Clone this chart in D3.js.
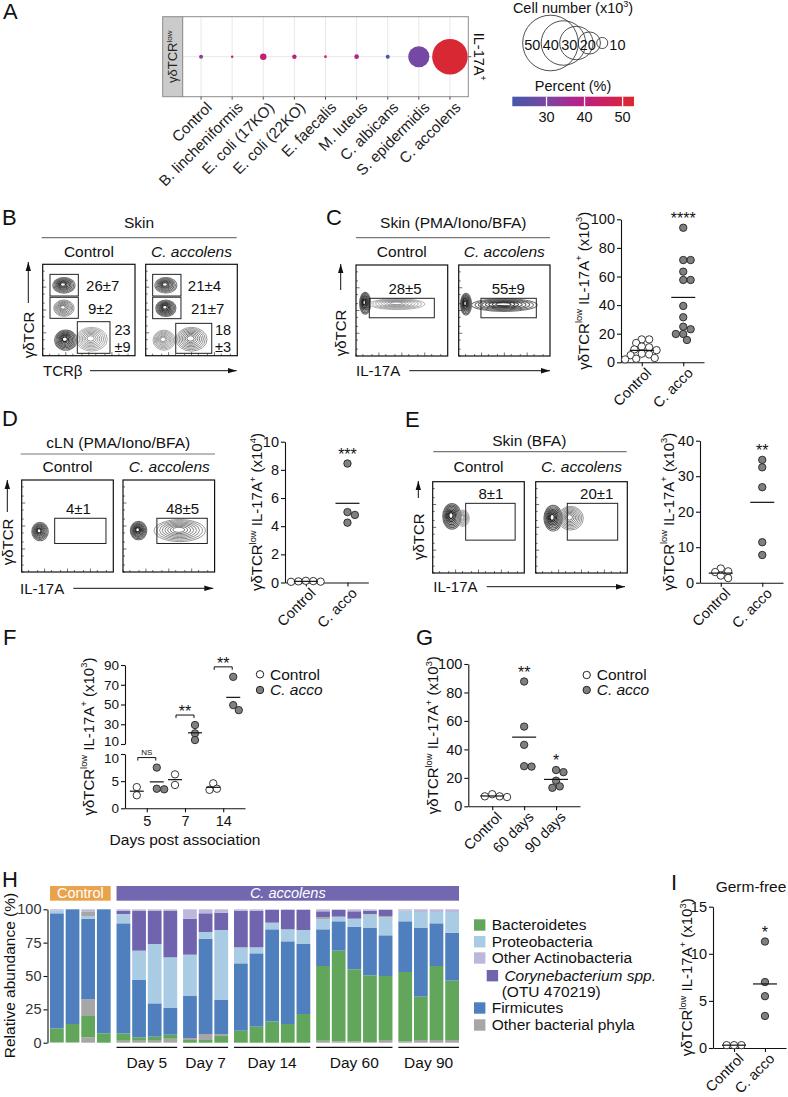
<!DOCTYPE html>
<html><head><meta charset="utf-8">
<script src="https://cdn.jsdelivr.net/npm/d3@7"></script>
<style>body{margin:0;background:#fff} svg{display:block}</style>
</head><body><script>
// ================= DATA =================
// Panel A
const aStrains = ["Control","B. lincheniformis","E. coli (17KO)","E. coli (22KO)","E. faecalis","M. luteus","C. albicans","S. epidermidis","C. accolens"];
const aCellNumber = [3.6, 2.2, 5.8, 4.0, 2.4, 4.2, 3.6, 19, 32];
const aPercent = [32, 45, 42, 40, 47, 39, 22, 29, 52];
const aSizeLegend = [50, 40, 30, 20, 10];
const aColorTicks = [30, 40, 50];
// Flow plot annotations
const bLabels = [["26±7","9±2","23","±9"],["21±4","21±7","18","±3"]];
const cLabels = ["28±5","55±9"];
const dLabels = ["4±1","48±5"];
const eLabels = ["8±1","20±1"];
// Panel C (x10^3)
const cControl = [16, 16, 13.5, 11, 10.5, 9, 8.5, 6, 5.5, 5, 3, 2.5, 2];
const cAcco = [94.1, 71.5, 71.5, 63.4, 57.6, 57.6, 39.4, 31.5, 24.9, 23.1, 19.8, 19.8, 15.6];
// Panel D (x10^4)
const dControl = [0.1, 0.05, 0.08, 0.12, 0.06];
const dAcco = [8.45, 5.0, 4.8, 4.25];
// Panel E (x10^3)
const eControl = [4.0, 3.2, 3.0, 2.0, 1.3];
const eAcco = [34.6, 32.5, 26.9, 11.4, 7.8];
// Panel F
const fDays = ["5", "7", "14"];
const fControl = [[3.9, 2.4], [6.25, 4.3], [4.6, 3.6, 3.4]];
const fAcco = [[7.5, 3.6, 3.5], [29.2, 20.8, 14], [78, 44.3, 49.4]];
const fSig = ["NS", "**", "**"];
// Panel G
const gCats = ["Control", "60 days", "90 days"];
const gValues = [[8.5, 7, 7, 6.5], [87.7, 56, 43.2, 27.9, 28.2], [25.5, 24, 18, 14, 13]];
const gSig = ["", "**", "*"];
// Panel H
const hGroups = ["Control", "Day 5", "Day 7", "Day 14", "Day 60", "Day 90"];
const hGroupSizes = [4, 4, 3, 5, 5, 4];
const hLayers = ["other1", "bact", "other2", "firm", "prot", "other3", "coryne", "actino"];
const hOther1 = [0.5,0.5,4,0, 1.5,1.5,1.5,3, 0,0,0, 0,0,0,0,0, 1.5,1,1,0.5,2, 1,2,2,2];
const hBact   = [10.25,13.5,16,7, 5.5,2.5,3,3, 2,2,5, 9,12,16,14,21.5, 56,68,54,50,48, 52,32.5,55.5,44.5];
const hOther2 = [0,0,12.5,0, 0,0,0,0, 1.5,4.5,1.5, 0,0,0,0,0, 0,0,0,0,0, 0,0,0,0];
const hFirm   = [86.25,86,60.5,93, 82.5,43,25,20, 31.5,71.5,25.5, 50.5,55,69,62,52.5, 27.5,22,32,35.5,30.5, 38,51.5,32,36];
const hProt   = [2,0,2,0, 7,22,44.5,38, 31,5,52.5, 12,4.5,5,9,10.5, 7.5,3.5,6,10,13.5, 8,12,8.5,15.5];
const hOther3 = [0,0,3.5,0, 0,0,0,0, 0,0,0, 0,0,0,0,0, 1.5,0,0,0.5,1, 0,0,0,0];
const hCoryne = [0,0,0,0, 2.5,30,25,35, 27,14,13, 27.5,27.5,9.5,14.5,15, 4.5,5,5.5,2.5,4.5, 0,0,0,0];
const hActino = [1,0,1.5,0, 1,1,1,1, 7,3,2.5, 1,1,0.5,0.5,0.5, 1.5,0.5,1.5,1,0.5, 1,2,2,2];
const hTicks = [0, 25, 50, 75, 100];
const hLegend = ["Bacteroidetes", "Proteobacteria", "Other Actinobacteria", "Corynebacterium spp.", "Firmicutes", "Other bacterial phyla"];
// Panel I
const iControl = [0.3, 0.3, 0.3];
const iAcco = [11.3, 7.0, 5.5, 3.4];

// ================= SETUP =================
const FONT = '"Liberation Sans", Arial, Helvetica, sans-serif';
const INK = "#111";
const svg = d3.select("body").append("svg").attr("width", 788).attr("height", 1097)
  .attr("font-family", FONT).attr("fill", INK);
const defs = svg.append("defs");
defs.append("marker").attr("id", "arr").attr("viewBox", "0 0 10 6").attr("refX", 10).attr("refY", 3)
  .attr("markerWidth", 9).attr("markerHeight", 6).attr("markerUnits", "userSpaceOnUse").attr("orient", "auto")
  .append("path").attr("d", "M0,0L10,3L0,6Z").attr("fill", INK);

function rich(parent, parts, fs) {
  const t = parent.append("text").attr("font-size", fs);
  let shift = 0;
  parts.forEach(p => {
    const o = typeof p === "string" ? {t: p} : p;
    const ts = t.append("tspan").text(o.t);
    const target = o.sup ? -0.42 * fs : 0;
    if (target !== shift) { ts.attr("dy", target - shift); shift = target; }
    if (o.sup) ts.attr("font-size", fs * 0.62);
    if (o.i) ts.attr("font-style", "italic");
  });
  return t;
}
function txt(x, y, s, fs, anchor = "middle", italic = false) {
  const t = svg.append("text").attr("x", x).attr("y", y).attr("font-size", fs).attr("text-anchor", anchor).text(s);
  if (italic) t.attr("font-style", "italic");
  return t;
}
const yLab = exp => ["γδTCR", {t: "low", sup: 1}, " IL-17A", {t: "+", sup: 1}, " (x10", {t: exp, sup: 1}, ")"];
function yLabel(x, yc, exp) {
  rich(svg.append("g").attr("transform", `translate(${x},${yc}) rotate(-90)`), yLab(exp), 15)
    .attr("text-anchor", "middle").attr("dy", "0.35em");
}
function styleAxis(ax, fs = 14.5) {
  ax.attr("font-size", fs).attr("font-family", FONT);
  ax.selectAll("line,path").attr("stroke", INK).attr("stroke-width", 1.1);
  ax.selectAll("text").attr("fill", INK);
  return ax;
}
function yAxis(scale, x, ticks, fs = 14.5) {
  return styleAxis(svg.append("g").attr("transform", `translate(${x},0)`)
    .call(d3.axisLeft(scale).tickValues(ticks).tickSize(4).tickSizeOuter(0).tickPadding(2)), fs);
}
function rotLabels(xs, labels, y, fs = 14.5) {
  labels.forEach((l, i) => {
    svg.append("text").attr("transform", `translate(${xs[i] + 7},${y + 8}) rotate(-45)`)
      .attr("text-anchor", "end").attr("dy", "0.35em").attr("font-size", fs).text(l);
  });
}
function swarm(vals, yf, cx, r) {
  const idx = vals.map((v, i) => i).sort((a, b) => vals[b] - vals[a]);
  const placed = [], out = new Array(vals.length);
  idx.forEach(i => {
    const py = yf(vals[i]); let px = cx;
    for (let k = 0; k < 60; k++) {
      const off = (k === 0 ? 0 : (k % 2 ? 1 : -1) * Math.ceil(k / 2)) * r * 0.5;
      const c = cx + off;
      if (placed.every(p => Math.hypot(p[0] - c, p[1] - py) >= 2 * r * 0.85)) { px = c; break; }
    }
    placed.push([px, py]); out[i] = [px, py];
  });
  return out;
}
function dots(vals, yf, cx, filled, r = 3.7, meanW = 24) {
  const pos = swarm(vals, yf, cx, r);
  svg.append("g").selectAll("circle").data(pos).join("circle")
    .attr("cx", d => d[0]).attr("cy", d => d[1]).attr("r", r)
    .attr("fill", filled ? "#808080" : "#fff").attr("stroke", "#222").attr("stroke-width", 0.9);
  const m = d3.mean(vals);
  svg.append("line").attr("x1", cx - meanW / 2).attr("x2", cx + meanW / 2).attr("y1", yf(m)).attr("y2", yf(m))
    .attr("stroke", INK).attr("stroke-width", 1.2);
  return d3.min(pos, p => p[1]);
}
function star(x, topPoint, s) { if (s) txt(x, topPoint - 4, s, 16); }

// Panel letters
[["A", 3, 19], ["B", 2, 225], ["C", 326, 225], ["D", 2, 426], ["E", 405, 427], ["F", 3, 645], ["G", 416, 645], ["H", 2, 887], ["I", 671, 890]]
  .forEach(([l, x, y]) => txt(x, y, l, 22, "start"));

// ================= PANEL A =================
(function () {
  const box = {x0: 182.7, x1: 468.3, y0: 16.7, y1: 96.7};
  const x = d3.scalePoint().domain(aStrains).range([box.x0, box.x1]).padding(0.59);
  const cy = (box.y0 + box.y1) / 2;
  const r = d3.scaleLinear().domain([0, 50]).range([0, 27.8]);
  const color = d3.scaleLinear().domain([21, 30, 38, 45, 53]).range(["#4458a8", "#7a46a3", "#b3228c", "#cc1f62", "#d9292c"]);
  const g = svg.append("g");
  g.append("rect").attr("x", 162.7).attr("y", box.y0).attr("width", box.x0 - 162.7).attr("height", box.y1 - box.y0)
    .attr("fill", "#cbcbcb").attr("stroke", "#8c8c8c");
  rich(g.append("g").attr("transform", `translate(${(162.7 + box.x0) / 2},${cy}) rotate(-90)`), ["γδTCR", {t: "low", sup: 1}], 13)
    .attr("text-anchor", "middle").attr("dy", "0.35em").attr("fill", "#222");
  g.append("rect").attr("x", box.x0).attr("y", box.y0).attr("width", box.x1 - box.x0).attr("height", box.y1 - box.y0).attr("fill", "#fff");
  g.selectAll(".vg").data(aStrains).join("line").attr("x1", d => x(d)).attr("x2", d => x(d))
    .attr("y1", box.y0).attr("y2", box.y1).attr("stroke", "#e8e8e8");
  g.append("line").attr("x1", box.x0).attr("x2", box.x1).attr("y1", cy).attr("y2", cy).attr("stroke", "#e8e8e8");
  g.selectAll(".bub").data(aStrains).join("circle").attr("cx", d => x(d)).attr("cy", cy)
    .attr("r", (d, i) => r(aCellNumber[i])).attr("fill", (d, i) => color(aPercent[i]));
  g.append("rect").attr("x", box.x0).attr("y", box.y0).attr("width", box.x1 - box.x0).attr("height", box.y1 - box.y0)
    .attr("fill", "none").attr("stroke", "#8c8c8c");
  g.selectAll(".tk").data(aStrains).join("line").attr("x1", d => x(d)).attr("x2", d => x(d))
    .attr("y1", box.y1).attr("y2", box.y1 + 3).attr("stroke", "#555");
  g.append("line").attr("x1", box.x1).attr("x2", box.x1 + 3).attr("y1", cy).attr("y2", cy).attr("stroke", "#555");
  aStrains.forEach(s => {
    g.append("text").attr("transform", `translate(${x(s) + 8},${box.y1 + 8}) rotate(-45)`)
      .attr("text-anchor", "end").attr("dy", "0.35em").attr("font-size", 15.2).attr("fill", "#222").text(s);
  });
  rich(g.append("g").attr("transform", `translate(${box.x1 + 11},${cy}) rotate(90)`), ["IL-17A", {t: "+", sup: 1}], 14.5)
    .attr("text-anchor", "middle").attr("dy", "0.35em");
  // size legend
  rich(g.append("g").attr("transform", "translate(573,13)"), ["Cell number (x10", {t: "3", sup: 1}, ")"], 14.5).attr("text-anchor", "middle");
  aSizeLegend.forEach((v, i) => {
    const left = 522.7 + i * 18.5, rr = r(v);
    g.append("circle").attr("cx", left + rr).attr("cy", 43).attr("r", rr).attr("fill", "none").attr("stroke", "#222").attr("stroke-width", 0.8);
    const last = i === aSizeLegend.length - 1;
    g.append("text").attr("x", last ? left + 2 * rr + 1.5 : left + 9.5).attr("y", 44.5).attr("dy", "0.35em")
      .attr("text-anchor", last ? "start" : "middle").attr("font-size", 14.5).text(v);
  });
  // color legend
  txt(573, 90.7, "Percent (%)", 14.5);
  const cb = d3.scaleLinear().domain([21, 53]).range([512.3, 634]);
  const grad = defs.append("linearGradient").attr("id", "cbar");
  d3.range(21, 53.1, 2).forEach(v => grad.append("stop").attr("offset", (v - 21) / 32).attr("stop-color", color(v)));
  g.append("rect").attr("x", cb(21)).attr("y", 96.7).attr("width", cb(53) - cb(21)).attr("height", 9.5).attr("fill", "url(#cbar)");
  aColorTicks.forEach(v => {
    g.append("line").attr("x1", cb(v)).attr("x2", cb(v)).attr("y1", 96.7).attr("y2", 106.2).attr("stroke", "#fff").attr("stroke-width", 1.3);
    txt(cb(v), 121.7, v, 14.5);
  });
})();

// ================= FLOW PLOTS =================
function flowPlot(b, blobs, gates, labels) {
  const x = d3.scaleLinear().domain([0, 1]).range([b[0], b[1]]);
  const y = d3.scaleLinear().domain([0, 1]).range([b[3], b[2]]);
  const w = b[1] - b[0], h = b[3] - b[2];
  const g = svg.append("g");
  blobs.forEach(bl => {
    const n = 8;
    d3.range(n).forEach(k => {
      const f = 1 - (k / n) * 0.88;
      g.append("ellipse").attr("cx", x(bl[0] - 0.012 * (k / n))).attr("cy", y(bl[1] + 0.01 * (k / n)))
        .attr("rx", bl[2] * w * f).attr("ry", bl[3] * h * f)
        .attr("fill", "none").attr("stroke", d3.interpolateGreys(0.35 + 0.6 * bl[4] * (0.5 + k / n / 2)))
        .attr("stroke-width", 0.55 + 0.6 * bl[4]);
    });
  });
  const lg = d3.scaleLog().domain([10, 1e5]);
  const tickVals = [10, 20, 50, 100, 200, 500, 1000, 2000, 5000, 10000, 20000, 50000];
  tickVals.forEach(t => {
    const big = [100, 1000, 10000].includes(t) ? 3.5 : 2;
    const fy = b[3] - lg(t) * h, fx = b[0] + lg(t) * w;
    g.append("line").attr("x1", b[0]).attr("x2", b[0] + big).attr("y1", fy).attr("y2", fy).attr("stroke", "#333").attr("stroke-width", 0.7);
    g.append("line").attr("y1", b[3]).attr("y2", b[3] - big).attr("x1", fx).attr("x2", fx).attr("stroke", "#333").attr("stroke-width", 0.7);
  });
  g.append("rect").attr("x", b[0]).attr("y", b[2]).attr("width", w).attr("height", h).attr("fill", "none").attr("stroke", INK).attr("stroke-width", 1.2);
  gates.forEach(gt => g.append("rect").attr("x", x(gt[0])).attr("y", y(gt[3])).attr("width", x(gt[1]) - x(gt[0]))
    .attr("height", y(gt[2]) - y(gt[3])).attr("fill", "none").attr("stroke", "#222").attr("stroke-width", 1));
  labels.forEach(l => g.append("text").attr("x", x(l[1])).attr("y", y(l[2])).attr("dy", "0.35em")
    .attr("text-anchor", l[3] || "middle").attr("font-size", l[4] || 15).text(l[0]));
}
function flowHeader(title, cx, tY, line, condY, centers) {
  txt(cx, tY, title, 15.5);
  svg.append("line").attr("x1", line[0]).attr("x2", line[1]).attr("y1", line[2]).attr("y2", line[2]).attr("stroke", "#777").attr("stroke-width", 1.2);
  txt(centers[0], condY, "Control", 15.5);
  txt(centers[1], condY, "C. accolens", 15.5, "middle", true);
}
function flowAxes(yx, yFrom, yTo, yLc, xName, xStart, xLy, xFrom, xTo) {
  svg.append("line").attr("x1", yx).attr("x2", yx).attr("y1", yFrom).attr("y2", yTo).attr("stroke", INK).attr("stroke-width", 1).attr("marker-end", "url(#arr)");
  svg.append("text").attr("transform", `translate(${yx},${yLc}) rotate(-90)`).attr("text-anchor", "middle").attr("dy", "0.35em").attr("font-size", 15).text("γδTCR");
  svg.append("text").attr("x", xStart).attr("y", xLy).attr("dy", "0.35em").attr("font-size", 15).text(xName);
  svg.append("line").attr("x1", xFrom).attr("x2", xTo).attr("y1", xLy).attr("y2", xLy).attr("stroke", INK).attr("stroke-width", 1).attr("marker-end", "url(#arr)");
}

// B
flowHeader("Skin", 139, 228.3, [41.7, 236.7, 237.7], 257.3, [88.9, 191.5]);
flowPlot([42.7, 135, 264.3, 355.7],
  [[.23, .77, .12, .085, .9], [.23, .52, .11, .09, .6], [.25, .17, .12, .11, .95], [.53, .18, .17, .13, .45]],
  [[.079, .386, .653, .89], [.079, .386, .409, .639], [.375, .729, .026, .372]],
  [[bLabels[0][0], .47, .76, "start"], [bLabels[0][1], .49, .51, "start"], [bLabels[0][2], .865, .28, "middle", 14.5], [bLabels[0][3], .865, .1, "middle", 14.5]]);
flowPlot([145.7, 237.3, 264.3, 355.7],
  [[.22, .77, .12, .085, .85], [.22, .52, .11, .09, .95], [.2, .17, .12, .11, .45], [.5, .18, .17, .13, .6]],
  [[.076, .385, .653, .89], [.076, .385, .405, .64], [.328, .721, .026, .354]],
  [[bLabels[1][0], .46, .76, "start"], [bLabels[1][1], .495, .51, "start"], [bLabels[1][2], .844, .28, "middle", 14.5], [bLabels[1][3], .844, .1, "middle", 14.5]]);
flowAxes(28.3, 303, 262, 335, "TCRβ", 43, 370.7, 90, 236.7);

// C
flowHeader("Skin (PMA/Iono/BFA)", 453.3, 228.3, [356, 550, 237.7], 257.3, [401.8, 504.3]);
flowPlot([356, 447.7, 265, 356],
  [[.1, .58, .06, .12, 1], [.45, .57, .3, .06, .4]],
  [[.145, .854, .42, .634]], [[cLabels[0], .535, .744]]);
flowPlot([458.7, 550, 265, 356],
  [[.08, .57, .06, .12, 1], [.5, .56, .36, .07, .9]],
  [[.244, .85, .42, .634]], [[cLabels[1], .543, .744]]);
flowAxes(340.7, 290, 264, 333, "IL-17A", 356, 370.7, 409.3, 550);

// D
flowHeader("cLN (PMA/Iono/BFA)", 118.3, 448.3, [20.7, 215, 454], 472.3, [67.5, 169.3]);
flowPlot([21.7, 113.3, 480, 572],
  [[.2, .44, .09, .1, .9]],
  [[.36, .92, .31, .584]], [[dLabels[0], .62, .69]]);
flowPlot([123, 214.6, 480, 572],
  [[.17, .45, .09, .1, .95], [.62, .45, .28, .12, .6]],
  [[.37, .92, .31, .584]], [[dLabels[1], .65, .69]]);
flowAxes(7.3, 512, 480, 542, "IL-17A", 20, 588.3, 73.3, 213.3);

// E
flowHeader("Skin (BFA)", 529.3, 445.7, [433.3, 626.7, 451.7], 472.3, [478.5, 581.5]);
flowPlot([432.7, 524.3, 481.7, 573],
  [[.21, .62, .1, .14, 1], [.33, .6, .07, .09, .4]],
  [[.36, .9, .36, .763]], [[eLabels[0], .636, .873]]);
flowPlot([535.7, 627.3, 481.7, 573],
  [[.19, .6, .1, .14, 1], [.38, .6, .14, .13, .6]],
  [[.345, .895, .36, .763]], [[eLabels[1], .666, .873]]);
flowAxes(418.3, 498, 481, 536.7, "IL-17A", 433.3, 586.7, 486.7, 625);

// ================= DOT PANELS =================
function dotPanel(o) {
  const y = d3.scaleLinear().domain(o.yDomain).range([o.yBot, o.yTop]);
  const x = d3.scalePoint().domain(o.cats).range([o.x0, o.x1]).padding(o.pad);
  yAxis(y, o.x0, o.ticks);
  styleAxis(svg.append("g").attr("transform", `translate(0,${o.yBot})`)
    .call(d3.axisBottom(x).tickSize(4).tickSizeOuter(0))).selectAll("text").remove();
  rotLabels(o.cats.map(c => x(c)), o.catLabels || o.cats, o.yBot);
  o.groups.forEach((vals, i) => {
    const top = dots(vals, y, x(o.cats[i]), o.filled[i]);
    star(x(o.cats[i]), top, o.sig[i]);
  });
  yLabel(o.labX, (o.yTop + o.yBot) / 2, o.exp);
}
dotPanel({x0: 621, x1: 704, pad: 0.5, yTop: 219.3, yBot: 362.3, yDomain: [0, 100], ticks: [0, 20, 40, 60, 80, 100],
  cats: ["Control", "C. acco"], groups: [cControl, cAcco], filled: [false, true], sig: ["", "****"], labX: 583.3, exp: "3"});
dotPanel({x0: 285, x1: 368.3, pad: 0.5, yTop: 441.7, yBot: 582.5, yDomain: [0, 10], ticks: [0, 2, 4, 6, 8, 10],
  cats: ["Control", "C. acco"], groups: [dControl, dAcco], filled: [false, true], sig: ["", "***"], labX: 256.7, exp: "4"});
dotPanel({x0: 700, x1: 783, pad: 0.5, yTop: 440.7, yBot: 582.7, yDomain: [0, 40], ticks: [0, 10, 20, 30, 40],
  cats: ["Control", "C. acco"], groups: [eControl, eAcco], filled: [false, true], sig: ["", "**"], labX: 668.3, exp: "3"});
dotPanel({x0: 468.3, x1: 580, pad: 0.75, yTop: 664, yBot: 806.3, yDomain: [0, 100], ticks: [0, 20, 40, 60, 80, 100],
  cats: gCats, groups: gValues, filled: [false, true, true], sig: gSig, labX: 433, exp: "3"});
dotPanel({x0: 713, x1: 786, pad: 0.68, yTop: 906.7, yBot: 1048, yDomain: [0, 15], ticks: [0, 5, 10, 15],
  cats: ["Control", "C. acco"], groups: [iControl, iAcco], filled: [false, true], sig: ["", "*"], labX: 687, exp: "3"});
txt(751, 891.7, "Germ-free", 15.5);

function dotLegend(x, y1, y2) {
  svg.append("circle").attr("cx", x).attr("cy", y1).attr("r", 3.7).attr("fill", "#fff").attr("stroke", "#222");
  svg.append("circle").attr("cx", x).attr("cy", y2).attr("r", 3.7).attr("fill", "#808080").attr("stroke", "#222");
  txt(x + 10, y1, "Control", 15.5, "start").attr("dy", "0.35em");
  txt(x + 10, y2, "C. acco", 15.5, "start", true).attr("dy", "0.35em");
}
dotLegend(586.7, 675, 690);

// ================= PANEL F =================
(function () {
  const yUp = d3.scaleLinear().domain([10, 90]).range([744, 665]);
  const yLo = d3.scaleLinear().domain([0, 10]).range([808.3, 754]);
  const fy = v => v > 10 ? yUp(v) : yLo(v);
  const x0 = 125, x1 = 245;
  const x = d3.scalePoint().domain(fDays).range([x0, x1]).padding(0.57);
  const up = yAxis(yUp, x0, [10, 30, 50, 70, 90], 13.5);
  up.selectAll(".tick text").filter(d => d === 10).attr("dy", "0.12em");
  const lo = yAxis(yLo, x0, [0, 5, 10], 13.5);
  lo.selectAll(".tick text").filter(d => d === 10).attr("dy", "0.62em");
  styleAxis(svg.append("g").attr("transform", `translate(0,${808.3})`)
    .call(d3.axisBottom(x).tickSize(4).tickSizeOuter(0).tickPadding(3)));
  txt((x0 + x1) / 2, 844.5, "Days post association", 15.5);
  fDays.forEach((d, i) => {
    const t1 = dots(fControl[i], fy, x(d) - 10, false, 3.7, 14);
    const t2 = dots(fAcco[i], fy, x(d) + 10, true, 3.7, 14);
    const by = Math.min(t1, t2) - 10;
    svg.append("path").attr("d", `M${x(d) - 9},${by + 3}V${by}H${x(d) + 9}V${by + 3}`).attr("fill", "none").attr("stroke", INK);
    if (fSig[i] === "NS") txt(x(d), by - 2.5, "NS", 8);
    else txt(x(d), by + 2, fSig[i], 16);
  });
  yLabel(88.3, 736.6, "3");
  dotLegend(260, 674.3, 690);
})();

// ================= PANEL H =================
(function () {
  const y = d3.scaleLinear().domain([0, 100]).range([1042.7, 909.3]);
  const ids = d3.range(hBact.length);
  const groupOf = [];
  hGroupSizes.forEach((n, gi) => { for (let k = 0; k < n; k++) groupOf.push(gi); });
  const gap = 4;
  const band = d3.scaleBand().domain(ids).range([50, 459 - gap * (hGroups.length - 1)]).paddingInner(0.12);
  const hx = i => band(i) + groupOf[i] * gap;
  const bw = band.bandwidth();
  const layerVals = {other1: hOther1, bact: hBact, other2: hOther2, firm: hFirm, prot: hProt, other3: hOther3, coryne: hCoryne, actino: hActino};
  const layerColor = {other1: "#a6a6a6", bact: "#62a65b", other2: "#a6a6a6", firm: "#4f80bd", prot: "#a9cbe3", other3: "#a6a6a6", coryne: "#6f64ad", actino: "#bcb8dc"};
  const rows = ids.map(i => Object.fromEntries(hLayers.map(k => [k, layerVals[k][i]])));
  const stacked = d3.stack().keys(hLayers)(rows);
  stacked.forEach(layer => {
    svg.append("g").selectAll("rect").data(layer).join("rect")
      .attr("x", (d, i) => hx(i)).attr("width", bw)
      .attr("y", d => y(d[1])).attr("height", d => y(d[0]) - y(d[1]))
      .attr("fill", layerColor[layer.key]);
  });
  yAxis(y, 47.5, hTicks).selectAll("text").attr("fill", "#333");
  svg.append("text").attr("transform", "translate(10,975.5) rotate(-90)").attr("text-anchor", "middle").attr("dy", "0.35em").attr("font-size", 15.5).text("Relative abundance (%)");
  const starts = []; let acc = 0;
  hGroupSizes.forEach(n => { starts.push([acc, acc + n - 1]); acc += n; });
  starts.forEach(([a, b], gi) => {
    if (gi === 0) return;
    svg.append("line").attr("x1", hx(a)).attr("x2", hx(b) + bw).attr("y1", 1047.3).attr("y2", 1047.3).attr("stroke", INK).attr("stroke-width", 1.2);
    txt((hx(a) + hx(b) + bw) / 2, 1062.7, hGroups[gi], 15.5).attr("dy", "0.35em");
  });
  const banners = [[starts[0][0], starts[0][1], "#e9a34c", "Control", false], [starts[1][0], starts[5][1], "#7268b0", "C. accolens", true]];
  banners.forEach(([a, b, c, l, it]) => {
    svg.append("rect").attr("x", hx(a)).attr("y", 886).attr("width", hx(b) + bw - hx(a)).attr("height", 14.7).attr("fill", c);
    txt((hx(a) + hx(b) + bw) / 2, 893.4, l, 14.5, "middle", it).attr("dy", "0.35em").attr("fill", "#fff");
  });
  const legKeys = ["bact", "prot", "actino", "coryne", "firm", "other1"];
  const legY = [925, 941.7, 958, 975.7, 1008, 1025];
  legKeys.forEach((k, i) => {
    const indent = k === "coryne" ? 12.7 : 0;
    svg.append("rect").attr("x", 474 + indent).attr("y", legY[i] - 5.7).attr("width", 11.4).attr("height", 11.4).attr("fill", layerColor[k]);
    txt(491.7 + indent, legY[i], hLegend[i], 15.5, "start", k === "coryne").attr("dy", "0.35em");
  });
  txt(501.7, 992, "(OTU 470219)", 15.5, "start").attr("dy", "0.35em");
})();
</script></body></html>
